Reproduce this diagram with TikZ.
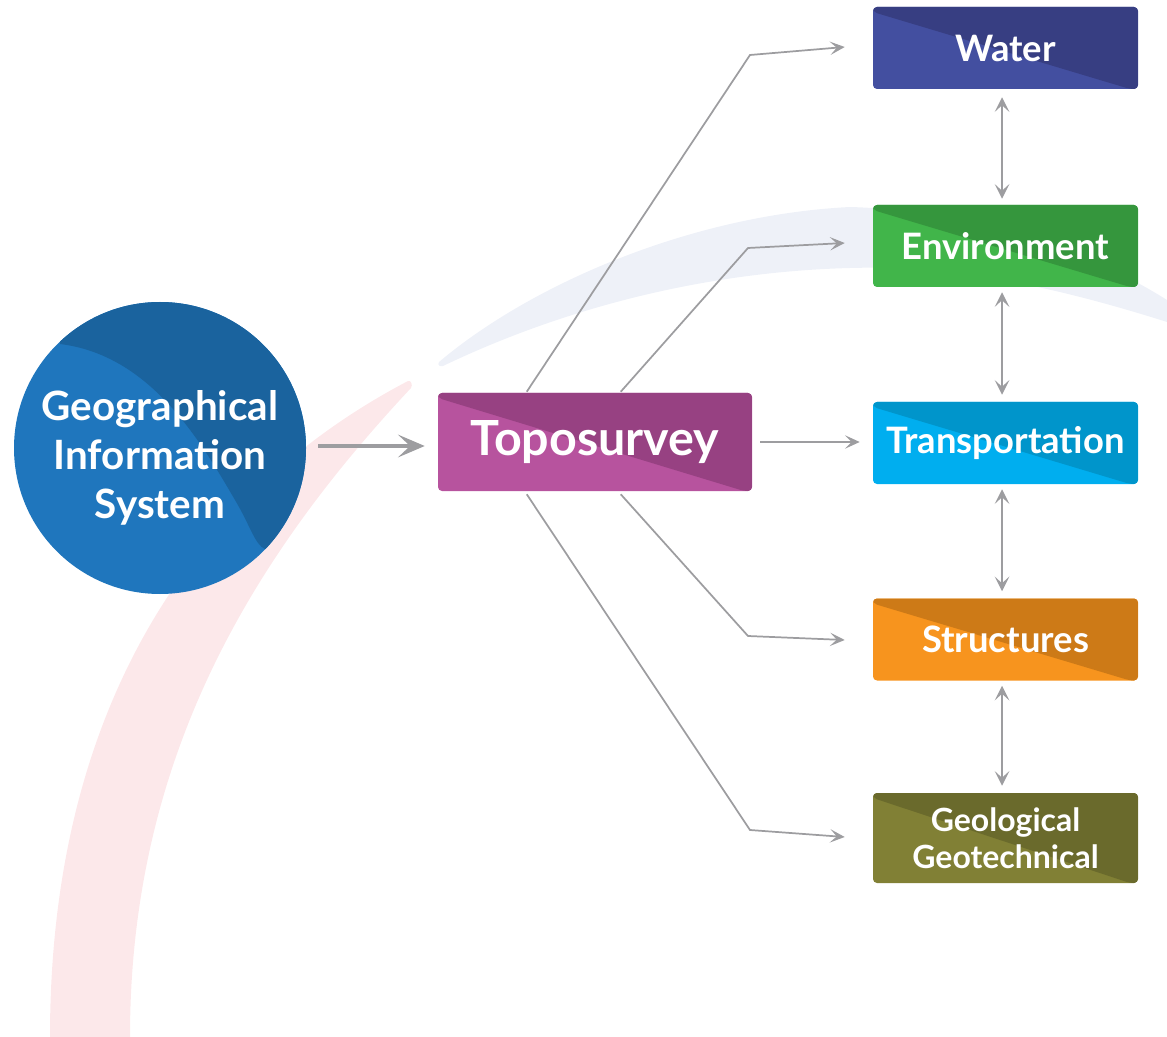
\documentclass[tikz,border=0pt]{standalone}
\usepackage{fontspec}
\setmainfont{Lato}
\usetikzlibrary{arrows.meta,calc}
\definecolor{pinkarc}{HTML}{FCE8EA}
\definecolor{bluearc}{HTML}{EEF1F8}
\definecolor{gislight}{HTML}{1F76BD}
\definecolor{gisdark}{HTML}{1A639E}
\definecolor{topolight}{HTML}{B7539E}
\definecolor{topodark}{HTML}{974182}
\definecolor{waterlight}{HTML}{434FA0}
\definecolor{waterdark}{HTML}{373E82}
\definecolor{envlight}{HTML}{41B54A}
\definecolor{envdark}{HTML}{35963D}
\definecolor{translight}{HTML}{00AEEF}
\definecolor{transdark}{HTML}{0095CB}
\definecolor{structlight}{HTML}{F7941E}
\definecolor{structdark}{HTML}{CD7A17}
\definecolor{geolight}{HTML}{818035}
\definecolor{geodark}{HTML}{6A6A2C}
\definecolor{linegray}{HTML}{9D9DA0}
\tikzset{
  twotone/.style 2 args={rectangle, rounded corners=3pt, fill=#1, text=white,
    inner sep=0pt, align=center,
    path picture={\fill[#2] ($(path picture bounding box.north west)+(0,5)$)
      -- (path picture bounding box.north west) -- (path picture bounding box.north east)
      -- (path picture bounding box.south east)
      -- ($(path picture bounding box.south east)+(-8,0)$) -- cycle;}},
  rbox/.style={minimum width=198.75pt, minimum height=61.5pt,
    font=\bfseries\fontsize{27.3}{31}\selectfont},
  conn/.style={draw=linegray, line width=1.3pt,
    -{Stealth[length=11pt,width=10pt,inset=5pt]}},
  dconn/.style={draw=linegray, line width=1.1pt,
    {Stealth[length=11pt,width=11pt,inset=5pt]}-{Stealth[length=11pt,width=11pt,inset=5pt]}},
  mainarrow/.style={draw=linegray, line width=3pt,
    -{Stealth[length=20pt,width=17pt,inset=9pt]}},
  gisnode/.style={circle, minimum size=219pt, inner sep=0pt, fill=gislight},
  gistext/.style={text=white, align=center, inner sep=0pt,
    font=\bfseries\fontsize{30.3}{36.75}\selectfont}
}
\begin{document}
\begin{tikzpicture}[x=0.75pt,y=-0.75pt]
\useasboundingbox (0,0) rectangle (1167,1037);
% background arcs
\fill[pinkarc] (408,381) .. controls (200,490) and (50,700) .. (50,1037)
  -- (130,1037) .. controls (130,760) and (250,560) .. (411,388)
  .. controls (413,385) and (411,380) .. (408,381) -- cycle;
\fill[bluearc] (439,362) .. controls (530,285) and (690,215) .. (850,207)
  .. controls (960,210) and (1080,245) .. (1167,300) -- (1167,322)
  .. controls (1050,285) and (950,265) .. (850,268)
  .. controls (700,272) and (560,310) .. (443,366)
  .. controls (440,367) and (437,365) .. (439,362) -- cycle;
% GIS circle
\node[gisnode] (gis) at (160,448) {};
\begin{scope}
  \clip (gis.center) circle[radius=146];
  \fill[gisdark] ($(gis.center)+(-100,-104)$)
    .. controls ($(gis.center)+(-10,-93)$) and ($(gis.center)+(40,-8)$) .. ($(gis.center)+(75,52)$)
    .. controls ($(gis.center)+(90,77)$) and ($(gis.center)+(95,97)$) .. ($(gis.center)+(105,101)$)
    -- ($(gis.center)+(200,101)$) -- ($(gis.center)+(200,-200)$) -- ($(gis.center)+(-100,-200)$) -- cycle;
\end{scope}
\node[gistext] (gist) at ($(gis.center)+(0,10)$) {Geographical\\Information\\System};
% boxes
\node[twotone={topolight}{topodark}, minimum width=235.5pt, minimum height=73.5pt,
  font=\bfseries\fontsize{36.3}{40}\selectfont] (topo) at (595,442) {Toposurvey};
\node[twotone={waterlight}{waterdark}, rbox] (water) at (1005.5,48) {Water};
\node[twotone={envlight}{envdark}, rbox] (env) at (1005.5,246) {Environment};
\node[twotone={translight}{transdark}, rbox] (trans) at (1005.5,443) {Transportation};
\node[twotone={structlight}{structdark}, rbox] (struct) at (1005.5,639.5) {Structures};
\node[twotone={geolight}{geodark}, rbox, minimum height=67.5pt,
  font=\bfseries\fontsize{24}{28}\selectfont] (geo) at (1005.5,838) {Geological\\Geotechnical};
% bend points
\coordinate (b1) at (750,55);
\coordinate (b2) at (748,248);
\coordinate (b4) at (748,636);
\coordinate (b5) at (750,830);
% connectors
\draw[mainarrow] ($(gis.east)+(12,-2)$) -- ($(topo.west)+(-13,4)$);
\draw[conn] ($(topo.north west)+(89,-1)$) -- (b1) -- ($(water.west)+(-28,-1)$);
\draw[conn] ($(topo.north west)+(183,-1)$) -- (b2) -- ($(env.west)+(-28,-3)$);
\draw[conn] ($(topo.east)+(8,0)$) -- ($(trans.west)+(-13,-1)$);
\draw[conn] ($(topo.south west)+(183,3)$) -- (b4) -- ($(struct.west)+(-28,0.5)$);
\draw[conn] ($(topo.south west)+(89,3)$) -- (b5) -- ($(geo.west)+(-28,-1)$);
\draw[dconn] ($(water.south)+(-3.5,8)$) -- ($(env.north)+(-3.5,-6)$);
\draw[dconn] ($(env.south)+(-3.5,5)$) -- ($(trans.north)+(-3.5,-7)$);
\draw[dconn] ($(trans.south)+(-3.5,5)$) -- ($(struct.north)+(-3.5,-7)$);
\draw[dconn] ($(struct.south)+(-3.5,5)$) -- ($(geo.north)+(-3.5,-7)$);
\end{tikzpicture}
\end{document}
